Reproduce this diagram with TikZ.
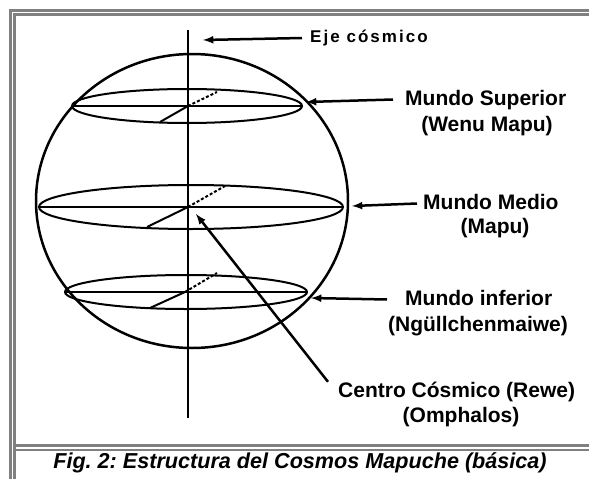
\documentclass[tikz,border=0pt]{standalone}
\usepackage{fontspec}
\setmainfont{Liberation Sans}
\usetikzlibrary{arrows}
\frenchspacing

\begin{document}
\begin{tikzpicture}[x=1pt,y=-1pt,>=latex,
  frame/.style={draw=gray,line width=3pt},
  world/.style={line width=2pt},
  lab/.style={inner sep=0pt,font=\fontsize{21}{25}\selectfont\bfseries,text height=15pt,text depth=4pt},
  pointer/.style={line width=2.5pt}]
  \useasboundingbox (0,0) rectangle (589,479);
  % frame of the figure
  \draw[frame] (10.5,479) -- (10.5,10.5) -- (589,10.5);
  \draw[frame] (14.5,479) -- (14.5,14.5) -- (589,14.5);
  \draw[frame] (14.5,445) -- (589,445);
  \draw[frame,line width=2pt] (14.5,450) -- (589,450);
  % sphere and axis
  \draw[line width=2.5pt] (192,201) ellipse [x radius=156, y radius=147];
  \draw[line width=2.5pt] (188,30) -- (188,418); % axis
  % upper world
  \draw[world] (187,106) ellipse [x radius=115, y radius=17];
  \draw[world] (72,106) -- (302,106);
  \draw[world] (160,122) -- (188,106);
  \draw[world,densely dashed] (188,106) -- (217,92);
  % middle world
  \draw[world] (191,207) ellipse [x radius=152, y radius=22];
  \draw[world] (39,207) -- (343,207);
  \draw[world] (147,227) -- (188,207);
  \draw[world,densely dashed] (188,207) -- (225,186);
  % lower world
  \draw[world] (186,292) ellipse [x radius=121, y radius=17];
  \draw[world] (65,292) -- (307,292);
  \draw[world] (150,308) -- (185,292);
  \draw[world,densely dashed] (185,292) -- (217,273);
  % labels
    \coordinate (EjeT) at (203,40);
    \coordinate (SupT) at (306,102);
    \coordinate (MedT) at (352,206);
    \coordinate (InfT) at (311,298);
    \coordinate (CenT) at (196,214);
  \node[inner sep=0pt,anchor=west,font=\fontsize{17}{19}\selectfont\bfseries\addfontfeature{LetterSpace=12},text height=11pt,text depth=3pt] (eje) at (310,38) {Eje cósmico};
  \node[lab,anchor=west] (sup) at (405,99.5) {Mundo Superior};
  \node[lab,anchor=base] (supb) at (487,131) {(Wenu Mapu)};
  \node[lab,anchor=west] (med) at (423,203.5) {Mundo Medio};
  \node[lab,anchor=base] (medb) at (495,233) {(Mapu)};
  \node[lab,anchor=west] (inf) at (405,299.5) {Mundo inferior};
  \node[lab,anchor=base] (infb) at (478,331) {(Ngüllchenmaiwe)};
  \node[lab,anchor=base west] (cen) at (338,397) {Centro Cósmico (Rewe)};
  \node[lab,anchor=base] (cenb) at (461,422) {(Omphalos)};
  \draw[pointer,<-] (EjeT) -- ([xshift=-8pt]eje.west);
  \draw[pointer,<-] (SupT) -- ([xshift=-12pt]sup.west);
  \draw[pointer,<-] (MedT) -- ([xshift=-6pt]med.west);
  \draw[pointer,<-] (InfT) -- ([xshift=-18pt]inf.west);
  \draw[pointer,<-] (CenT) -- ([xshift=-10pt]cen.north west);
  % caption
  \node[inner sep=0pt,anchor=base,font=\fontsize{21.6}{25}\selectfont\bfseries\itshape] (fig) at (300,468) {Fig. 2: Estructura del Cosmos Mapuche (básica)};
\end{tikzpicture}
\end{document}
